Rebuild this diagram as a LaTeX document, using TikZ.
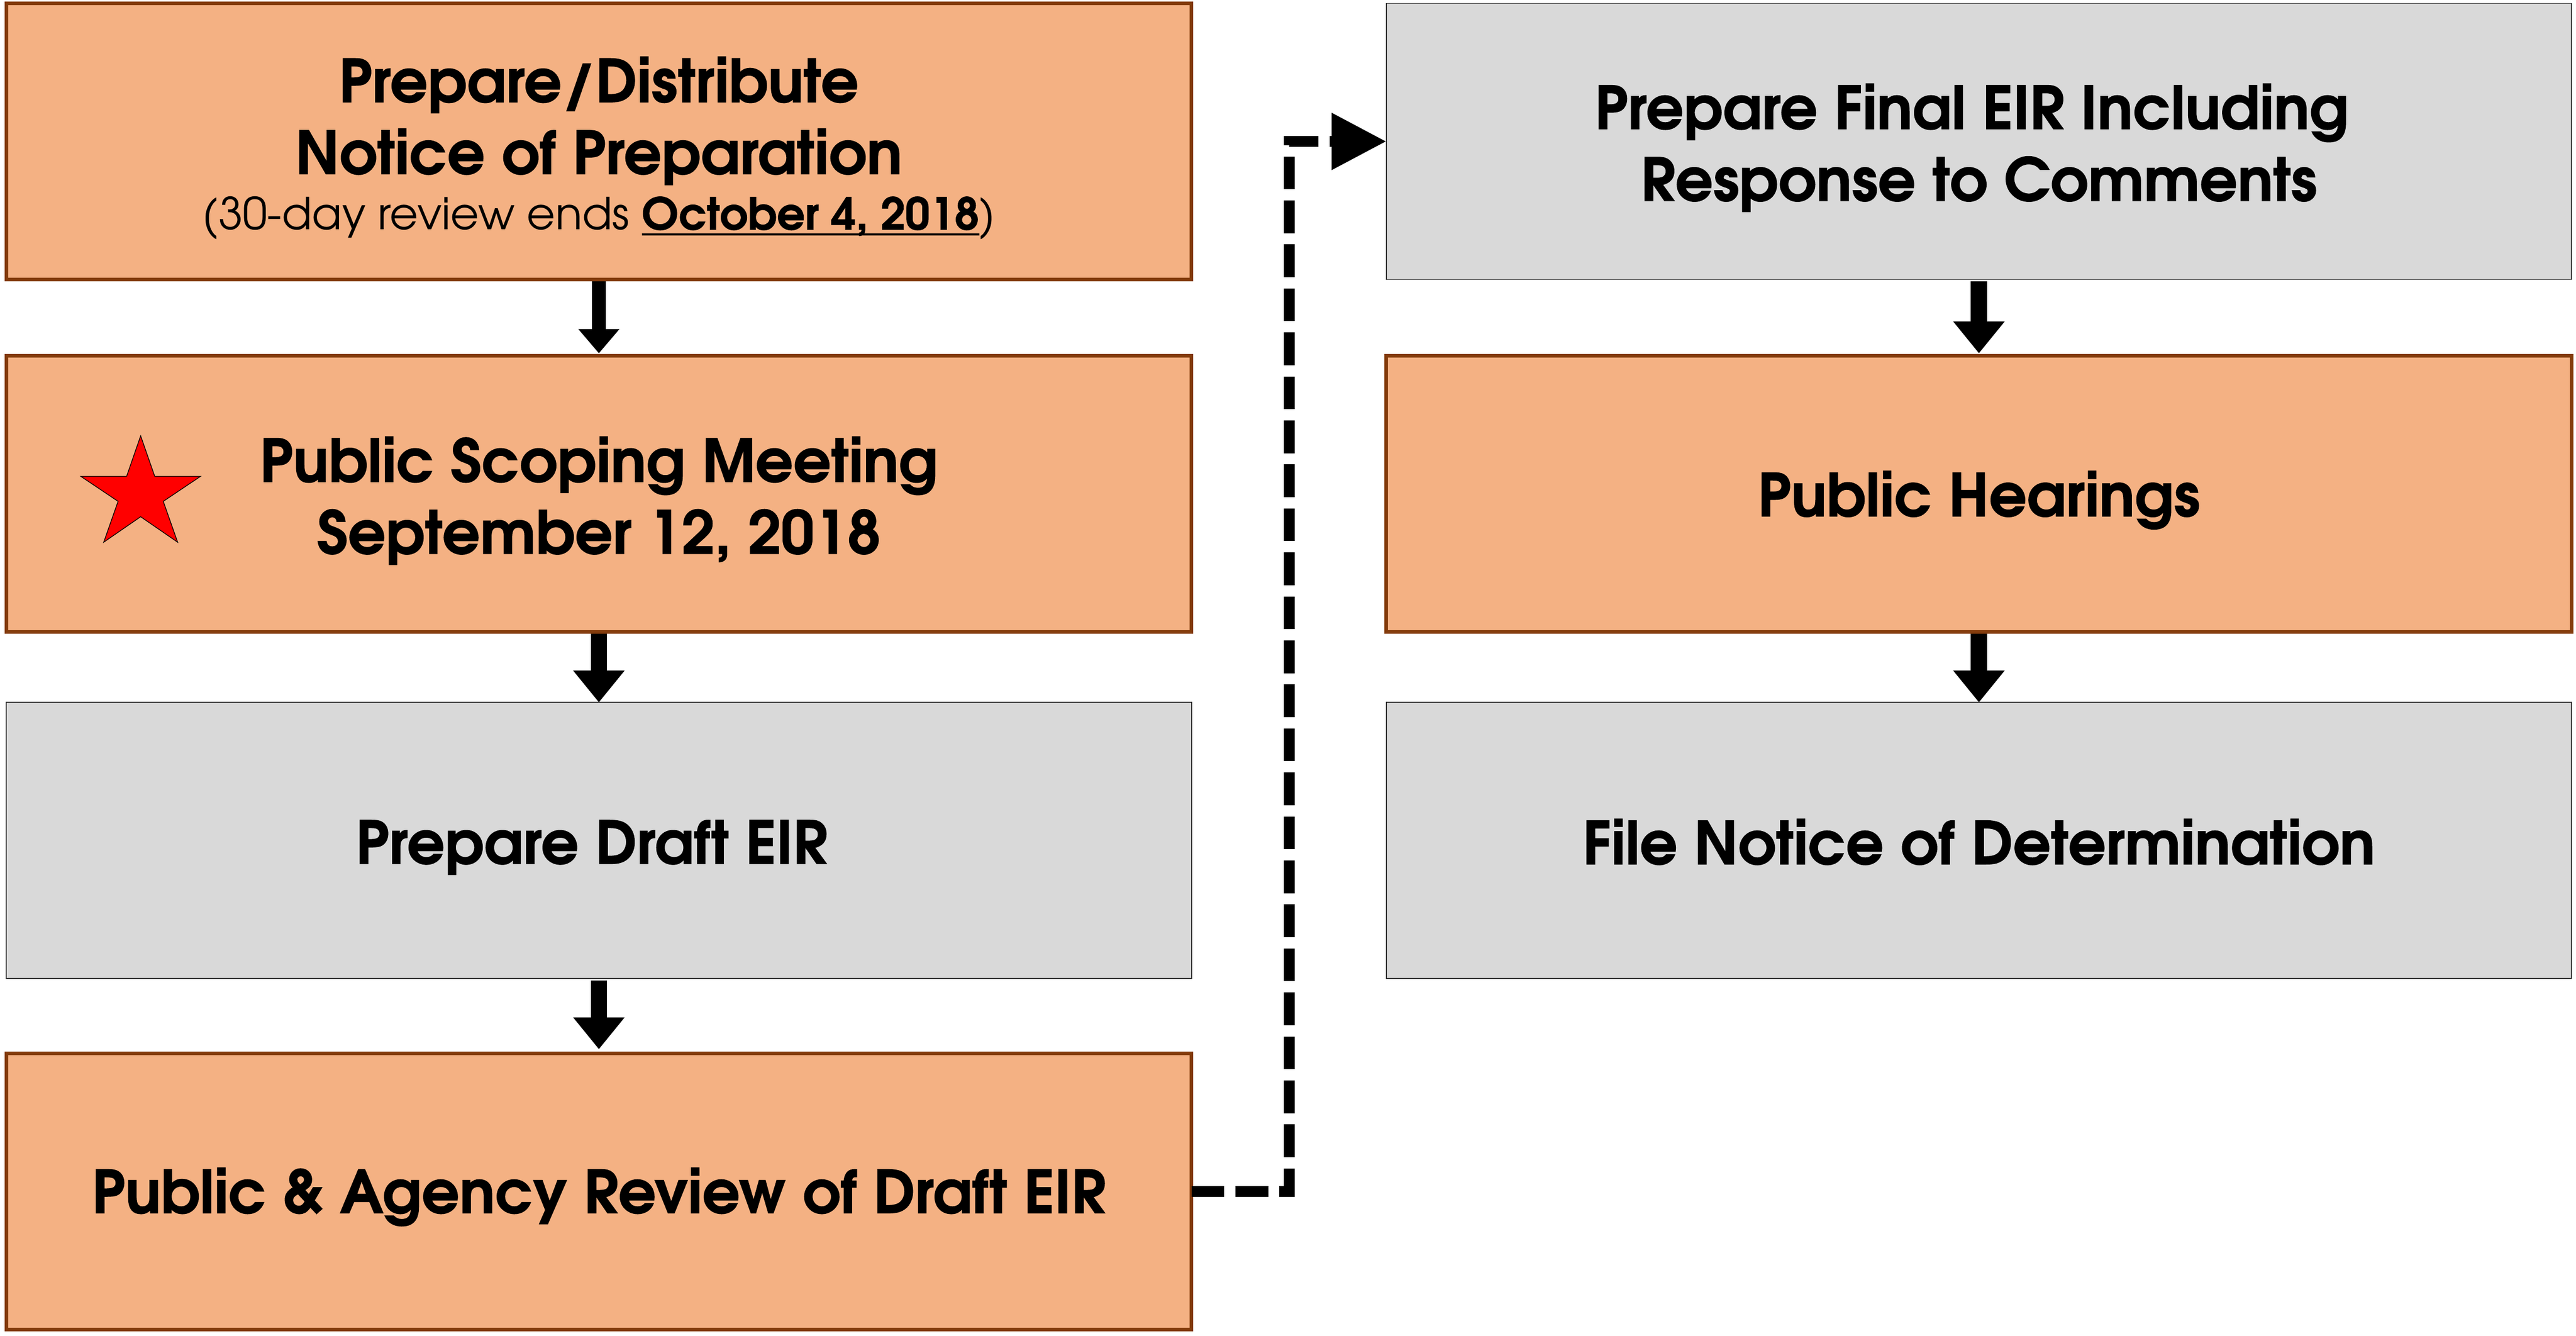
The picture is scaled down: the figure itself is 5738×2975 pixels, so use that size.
\documentclass[tikz,border=0pt]{standalone}
\usepackage{fontspec}
\setmainfont{texgyreadventor}[Extension=.otf, UprightFont=*-regular, BoldFont=*-bold, BoldFeatures={FakeBold=1}]
\usetikzlibrary{arrows.meta}
\definecolor{ofill}{HTML}{F4B183}
\definecolor{oedge}{HTML}{843C0C}
\definecolor{gfill}{HTML}{D9D9D9}
\definecolor{gedge}{HTML}{333333}
\definecolor{starred}{HTML}{FF0000}
\newcommand{\bigtxt}{\fontsize{33pt}{40pt}\selectfont\bfseries}
\newcommand{\smalltxt}{\fontsize{24.5pt}{31pt}\selectfont\mdseries}
\newcommand{\ulx}[1]{\setbox0\hbox{#1}\rlap{\rule[-3.2pt]{\wd0}{1pt}}\box0}
\begin{document}
\begin{tikzpicture}[x=0.25pt,y=-0.25pt,
  box/.style={rectangle, minimum width=660pt, minimum height=153.75pt, inner sep=0pt, outer sep=0pt},
  obox/.style={box, fill=ofill, draw=oedge, line width=2pt},
  gbox/.style={box, fill=gfill, draw=gedge, line width=0.5pt},
  txt/.style={inner sep=0pt, outer sep=0pt, align=center, font=\bigtxt},
  flowsmall/.style={line width=7.5pt, -{Triangle[width=22pt,length=13.5pt]}, shorten <=1pt},
  flow/.style={line width=9pt, -{Triangle[width=27.5pt,length=17.75pt]}, shorten <=1pt},
  dashflow/.style={line width=6pt, dash pattern=on 18.25pt off 6.25pt, -{Triangle[width=30.25pt,length=30.5pt]}}
]
\useasboundingbox (0,0) rectangle (5738,2975);
\fill[white] (0,0) rectangle (5738,2975);

% boxes
\node[obox] (A) at (1334,315.5) {};
\node[obox] (B) at (1334,1099.5) {};
\node[gbox] (C) at (1334,1872) {};
\node[obox] (D) at (1334,2653.5) {};
\node[gbox] (E) at (4408,315) {};
\node[obox] (F) at (4408,1099.5) {};
\node[gbox] (G) at (4408,1872) {};

% texts
\node[txt] (At) at (1334,330) {Prepare/Distribute\\Notice of Preparation\\[-9pt]{\smalltxt (30-day review ends \textbf{\ulx{October 4, 2018}})}};
\node[txt] (Bt) at (1334,1115) {Public Scoping Meeting\\September 12, 2018};
\node[txt, anchor=base] (Ct) at (1318,1924) {Prepare Draft EIR};
\node[txt, anchor=base] (Dt) at (1334,2702) {Public \& Agency Review of Draft EIR};
\node[txt] (Et) at (4408,329) {Prepare Final EIR Including\hspace*{8pt}\\Response to Comments};
\node[txt, anchor=base] (Ft) at (4408,1150) {Public Hearings};
\node[txt, anchor=base] (Gt) at (4408,1925) {File Notice of Determination};

% star
\filldraw[fill=starred, draw=black, line width=0.4pt]
  (313.3,970.7) -- (344.7,1061) -- (446.7,1061) -- (363.7,1116.7) -- (395.7,1207.7)
  -- (313.3,1151) -- (231,1207.7) -- (263,1116.7) -- (180,1061) -- (282,1061) -- cycle;

% connectors
\draw[flowsmall, shorten >=1.25pt] (A.south) -- (B.north);
\draw[flow] (B.south) -- (C.north);
\draw[flow, shorten >=2.25pt] (C.south) -- (D.north);
\draw[flow, shorten >=1.25pt] (E.south) -- (F.north);
\draw[flow] (F.south) -- (G.north);

\coordinate (K) at (2872,315);
\draw[dashflow] (D.east) -| (K) -- (E.west);
\end{tikzpicture}
\end{document}
